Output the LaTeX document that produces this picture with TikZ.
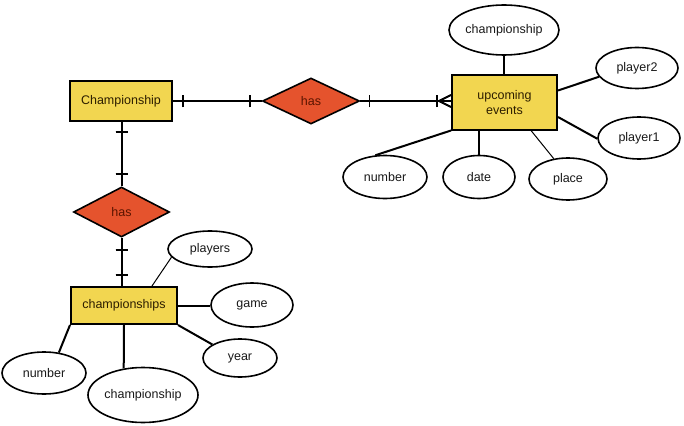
\documentclass[tikz,border=0pt]{standalone}
\usepackage{fontspec}
\setmainfont{Liberation Sans}
\usetikzlibrary{shapes.geometric,decorations.markings}
\definecolor{entfill}{RGB}{242,214,80}
\definecolor{relfill}{RGB}{229,83,45}
\definecolor{enttext}{RGB}{45,30,0}
\definecolor{reltext}{RGB}{90,20,0}
\begin{document}
\begin{tikzpicture}[x=1pt,y=-1pt,
  entity/.style={draw=black,line width=2pt,fill=entfill,rectangle,inner sep=0pt,text=enttext,font=\fontsize{12.5}{14.5}\selectfont,align=center},
  relation/.style={draw=black,line width=1.6pt,fill=relfill,diamond,inner sep=0pt,text=reltext,font=\fontsize{12.5}{14.5}\selectfont},
  attr/.style={draw=black,line width=1.6pt,fill=white,ellipse,inner sep=0pt,text=black!90,font=\fontsize{12.5}{14.5}\selectfont},
  link/.style={draw=black,line width=2pt},
  thinlink/.style={draw=black,line width=1pt},
  tickstart/.style={postaction={decorate},decoration={markings,mark=at position #1 with {\draw[line width=1.6pt] (0pt,-6pt)--(0pt,6pt);}}},
  tickend/.style={postaction={decorate},decoration={markings,mark=at position -#1 with {\draw[line width=1.6pt] (0pt,-6pt)--(0pt,6pt);}}},
  crowend/.style={postaction={decorate},decoration={markings,mark=at position -14pt with {\draw[line width=1.6pt] (0pt,-6pt)--(0pt,6pt); \draw[line width=1.6pt] (2pt,0pt)--(14pt,6pt); \draw[line width=1.6pt] (2pt,0pt)--(14pt,-6pt);}}}
]
\useasboundingbox[fill=white] (0,0) rectangle (684,425);

% entities and relations
\node[entity,minimum width=102pt,minimum height=40pt] (champ) at (121,101) {Championship};
\node[relation,minimum width=97pt,minimum height=46pt] (has1) at (311,101) {has};
\node[entity,minimum width=105pt,minimum height=54pt] (ue) at (504.5,102.5) {upcoming\\events};
\node[relation,minimum width=96pt,minimum height=50pt] (has2) at (121.5,212) {has};
\node[entity,minimum width=106pt,minimum height=37pt] (chs) at (124,305.5) {championships};

% attributes of upcoming events
\node[attr,minimum width=110pt,minimum height=50pt] (c1) at (504,30) {championship};
\node[attr,minimum width=82pt,minimum height=41pt] (p2) at (637,68) {player2};
\node[attr,minimum width=82pt,minimum height=42pt] (p1) at (639,138) {player1};
\node[attr,minimum width=84pt,minimum height=43pt] (n1) at (385,177) {number};
\node[attr,minimum width=72pt,minimum height=43pt] (d1) at (479,177) {date};
\node[attr,minimum width=78pt,minimum height=42pt] (pl) at (568,179) {place};

% attributes of championships
\node[attr,minimum width=84pt,minimum height=36pt] (pls) at (210,249) {players};
\node[attr,minimum width=82pt,minimum height=44pt] (gm) at (252,305) {game};
\node[attr,minimum width=74pt,minimum height=38pt] (yr) at (240,358) {year};
\node[attr,minimum width=84pt,minimum height=42pt] (n2) at (44,373) {number};
\node[attr,minimum width=110pt,minimum height=55pt] (c2) at (143,395) {championship};

% relationship connectors
\draw[link,tickstart=10pt,tickend=12pt] (champ.east) -- (has1.west);
\draw[link,tickstart=9pt,crowend] (has1.east) -- (has1.east -| ue.west);
\draw[link,tickstart=10pt,tickend=12pt] (has2.north |- champ.south) -- (has2.north);
\draw[link,tickstart=12pt,tickend=11pt] (has2.south) -- (has2.south |- chs.north);

% attribute connectors
\draw[link] (c1.south) -- (c1.south |- ue.north);
\draw[link] ([yshift=12pt]ue.east) -- (p2.193);
\draw[link] ([yshift=-14.5pt]ue.east) -- (p1.181);
\draw[link] (ue.south west) -- (n1.114);
\draw[link] (d1.north) -- (d1.north |- ue.south);
\draw[thinlink] ([xshift=26.5pt]ue.south) -- (pl.125);

\draw[thinlink] ([xshift=28pt]chs.north) -- (pls.192);
\draw[link] (chs.east) -- (chs.east -| gm.west);
\draw[link] (chs.south east) -- (yr.154);
\draw[link] (chs.south west) -- (n2.54);
\draw[link] (chs.south) -- (c2.126);
\end{tikzpicture}
\end{document}
